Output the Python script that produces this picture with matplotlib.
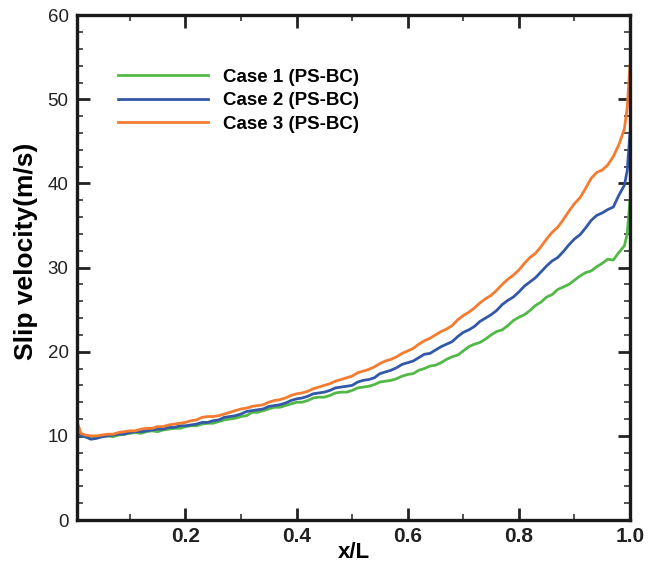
import matplotlib
matplotlib.use('Agg')
import matplotlib.pyplot as plt
from matplotlib.ticker import MultipleLocator

plt.rcParams['font.family'] = ['Liberation Sans', 'DejaVu Sans']

# x/L positions shared by all three cases
x_over_l = [0.006, 0.012] + [round(0.02 + 0.01 * i, 2) for i in range(98)] + [0.995, 1.0]

case1 = [10.2, 10.0,
         9.9, 9.7, 9.8, 9.9, 10.0, 9.9, 10.1, 10.2, 10.3, 10.4,
         10.3, 10.5, 10.6, 10.5, 10.7, 10.8, 10.9, 10.9, 11.1, 11.2,
         11.2, 11.4, 11.5, 11.5, 11.7, 11.9, 12.0, 12.1, 12.3, 12.4,
         12.8, 12.8, 13.0, 13.2, 13.4, 13.4, 13.6, 13.8, 14.0, 14.0,
         14.2, 14.5, 14.6, 14.6, 14.8, 15.1, 15.2, 15.2, 15.4, 15.7,
         15.8, 15.9, 16.1, 16.4, 16.5, 16.6, 16.8, 17.1, 17.3, 17.4,
         17.8, 18.0, 18.3, 18.4, 18.7, 19.1, 19.4, 19.6, 20.1, 20.6,
         20.9, 21.1, 21.5, 22.0, 22.4, 22.6, 23.1, 23.7, 24.1, 24.4,
         24.9, 25.5, 25.9, 26.5, 26.8, 27.4, 27.7, 28.0, 28.5, 29.0,
         29.4, 29.6, 30.1, 30.5, 31.0, 30.9, 31.8, 32.6,
         34.0, 38.0]

case2 = [10.3, 10.0,
         9.9, 9.6, 9.7, 9.9, 10.0, 10.1, 10.2, 10.2, 10.4, 10.5,
         10.5, 10.6, 10.7, 10.8, 10.8, 11.0, 11.0, 11.2, 11.2, 11.3,
         11.4, 11.6, 11.6, 11.8, 11.9, 12.2, 12.3, 12.4, 12.6, 12.9,
         13.0, 13.1, 13.2, 13.5, 13.6, 13.7, 13.9, 14.2, 14.4, 14.5,
         14.7, 15.0, 15.1, 15.2, 15.4, 15.7, 15.8, 15.9, 16.0, 16.4,
         16.6, 16.7, 16.9, 17.4, 17.6, 17.8, 18.1, 18.5, 18.7, 18.9,
         19.3, 19.7, 19.8, 20.2, 20.6, 20.9, 21.2, 21.8, 22.3, 22.6,
         23.0, 23.6, 24.0, 24.4, 24.9, 25.6, 26.1, 26.5, 27.1, 27.8,
         28.3, 28.8, 29.5, 30.2, 30.8, 31.2, 31.9, 32.7, 33.4, 33.9,
         34.7, 35.6, 36.2, 36.5, 36.9, 37.2, 38.6, 39.8,
         41.5, 46.0]

case3 = [11.5, 10.3,
         10.1, 10.0, 10.0, 10.1, 10.2, 10.2, 10.4, 10.5, 10.6, 10.6,
         10.8, 10.9, 10.9, 11.1, 11.1, 11.3, 11.4, 11.5, 11.6, 11.8,
         11.9, 12.2, 12.3, 12.3, 12.4, 12.6, 12.8, 13.0, 13.2, 13.3,
         13.5, 13.6, 13.7, 14.0, 14.2, 14.3, 14.5, 14.8, 15.0, 15.1,
         15.3, 15.6, 15.8, 16.0, 16.2, 16.5, 16.7, 16.9, 17.1, 17.5,
         17.7, 17.9, 18.2, 18.6, 18.9, 19.1, 19.4, 19.8, 20.1, 20.4,
         20.9, 21.3, 21.6, 22.0, 22.4, 22.7, 23.1, 23.8, 24.3, 24.7,
         25.2, 25.8, 26.3, 26.7, 27.3, 28.0, 28.6, 29.1, 29.7, 30.5,
         31.2, 31.7, 32.5, 33.4, 34.2, 34.8, 35.7, 36.7, 37.6, 38.3,
         39.4, 40.6, 41.3, 41.6, 42.2, 43.2, 44.6, 46.5,
         49.0, 54.0]

labels = ['Case 1 (PS-BC)', 'Case 2 (PS-BC)', 'Case 3 (PS-BC)']
colors = ['#52b947', '#3458a8', '#f47b30']

fig = plt.figure(figsize=(6.6, 5.64), dpi=100)
ax = fig.add_axes([0.1167, 0.078, 0.8378, 0.895])

for ys, lab, c in zip([case1, case2, case3], labels, colors):
    ax.plot(x_over_l, ys, color=c, linewidth=2.0, label=lab)

ax.set_xlim(0.005, 1.0)
ax.set_ylim(0, 60)
ax.xaxis.set_minor_locator(MultipleLocator(0.1))
ax.yaxis.set_major_locator(MultipleLocator(10))
ax.yaxis.set_minor_locator(MultipleLocator(2))
ax.set_xticks([0.2, 0.4, 0.6, 0.8, 1.0])
ax.set_xticklabels(['0.2', '0.4', '0.6', '0.8', '1.0'], fontweight='bold')

ax.tick_params(which='both', direction='in', top=True, right=True, colors='#222222')
ax.tick_params(which='major', length=9, width=2.0, labelsize=13.5, pad=6)
ax.tick_params(axis='x', which='major', labelsize=15, pad=5)
ax.tick_params(which='minor', length=4.5, width=1.1)
for sp in ax.spines.values():
    sp.set_linewidth(2.4)
    sp.set_color('#1a1a1a')

ax.set_xlabel('x/L', fontsize=16, fontweight='bold', labelpad=-3)
ax.set_ylabel('Slip velocity(m/s)', fontsize=19, fontweight='bold')
ax.yaxis.set_label_coords(-0.071, 0.533)

leg = ax.legend(loc='upper left', bbox_to_anchor=(0.058, 0.913), frameon=False,
                borderpad=0, handlelength=4.8, handletextpad=0.8, labelspacing=0.34,
                prop={'weight': 'bold', 'size': 13.5})

fig.savefig('out.png', dpi=100)
